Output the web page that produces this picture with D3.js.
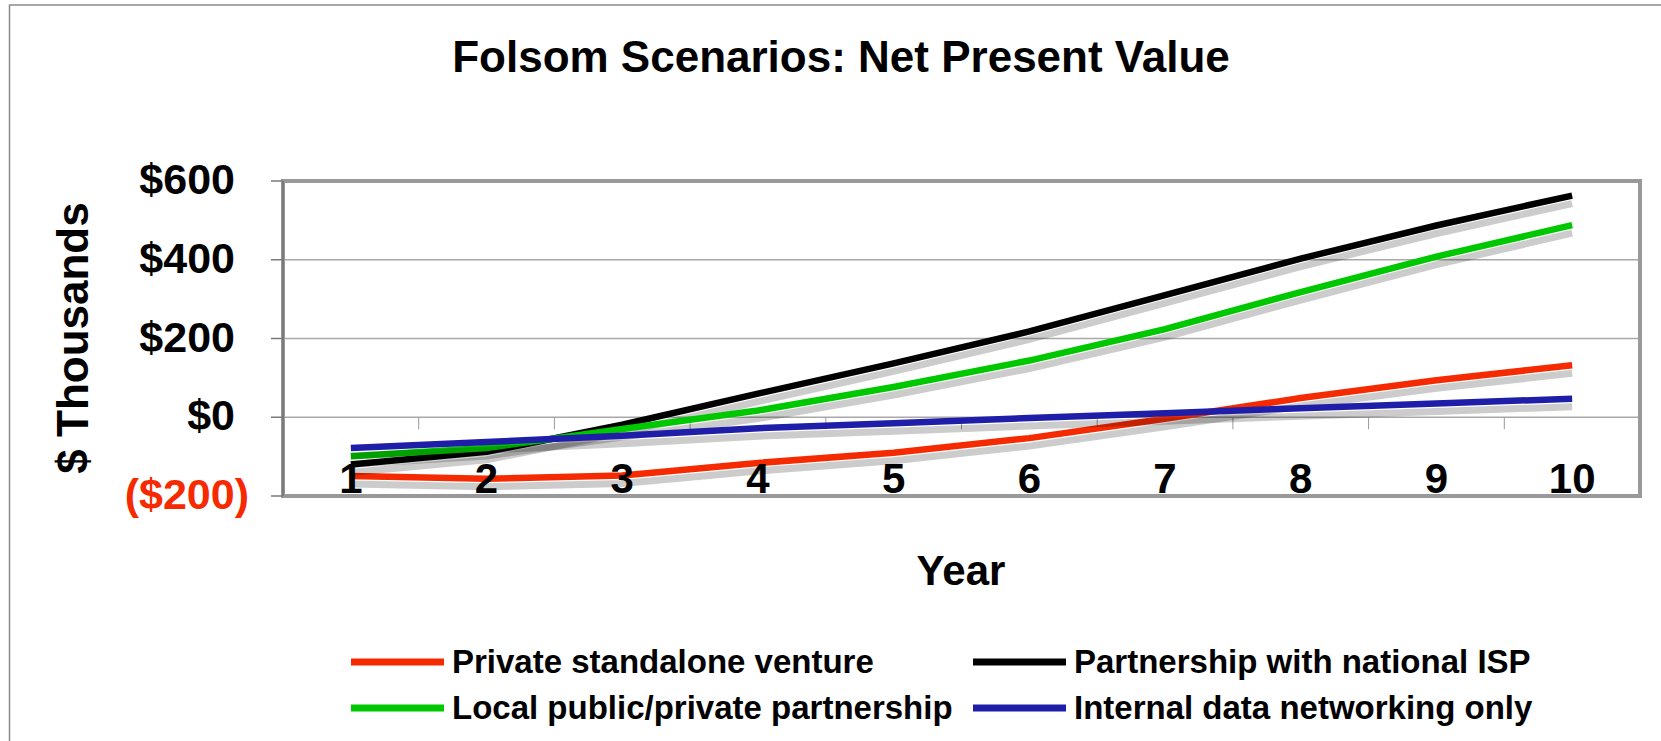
<!DOCTYPE html>
<html>
<head>
<meta charset="utf-8">
<script src="https://cdn.jsdelivr.net/npm/d3@7"></script>
<style>
  html, body { margin: 0; padding: 0; background: #fff; }
  svg { display: block; font-family: "Liberation Sans", Arial, sans-serif; font-weight: bold; }
</style>
</head>
<body>
<svg width="1661" height="741"></svg>
<script>
'use strict';

// data ($ thousands)
var years = ["1", "2", "3", "4", "5", "6", "7", "8", "9", "10"];
var privateVenture = [-149, -156, -148, -116, -90, -53, -4, 49, 94, 132];
var ispPartnership = [-120, -88, -19, 60, 137, 218, 310, 403, 487, 563];
var localPartnership = [-99, -78, -30, 17, 77, 144, 224, 318, 408, 488];
var internalOnly = [-78, -63, -47, -28, -15, -2, 10, 23, 35, 47];
var yTicks = [-200, 0, 200, 400, 600];

var series = [
  {name: "Private standalone venture", values: privateVenture, color: "#f52a00"},
  {name: "Partnership with national ISP", values: ispPartnership, color: "#000000"},
  {name: "Local public/private partnership", values: localPartnership, color: "#00c800"},
  {name: "Internal data networking only", values: internalOnly, color: "#1e1ea8"}
];

var svg = d3.select("svg");

// outer frame
svg.append("rect")
  .attr("x", 9.5).attr("y", 5)
  .attr("width", 1700).attr("height", 800)
  .attr("fill", "none")
  .attr("stroke", "#8a8a8a")
  .attr("stroke-width", 1.5);

var plotL = 283, plotR = 1640, plotT = 181, plotB = 496;

var x = d3.scaleBand().domain(years).range([plotL, plotR]).paddingInner(0).paddingOuter(0);
var y = d3.scaleLinear().domain([-200, 600]).range([plotB, plotT]);
var cx = function(d) { return x(d) + x.bandwidth() / 2; };

// title
svg.append("text")
  .attr("x", 841).attr("y", 72)
  .attr("text-anchor", "middle")
  .attr("font-size", 44)
  .text("Folsom Scenarios: Net Present Value");

// gridlines
svg.selectAll(".grid")
  .data([0, 200, 400])
  .enter().append("line")
  .attr("x1", plotL).attr("x2", plotR)
  .attr("y1", function(d) { return y(d); })
  .attr("y2", function(d) { return y(d); })
  .attr("stroke", "#a8a8a8")
  .attr("stroke-width", 1.5);

// x ticks hanging below the $0 line, at category boundaries
var bounds = years.slice(1).map(function(d) { return x(d); }).concat([plotR]);
svg.selectAll(".xtick")
  .data(bounds)
  .enter().append("line")
  .attr("x1", function(d) { return d; }).attr("x2", function(d) { return d; })
  .attr("y1", y(0)).attr("y2", y(0) + 12)
  .attr("stroke", "#999")
  .attr("stroke-width", 1);

// plot border
svg.append("rect")
  .attr("x", plotL).attr("y", plotT)
  .attr("width", plotR - plotL).attr("height", plotB - plotT)
  .attr("fill", "none")
  .attr("stroke", "#999")
  .attr("stroke-width", 4);

// y axis line + ticks
svg.append("line")
  .attr("x1", plotL).attr("x2", plotL)
  .attr("y1", plotT).attr("y2", plotB)
  .attr("stroke", "#7a7a7a")
  .attr("stroke-width", 2);
svg.selectAll(".ytick")
  .data(yTicks)
  .enter().append("line")
  .attr("x1", plotL - 12).attr("x2", plotL)
  .attr("y1", function(d) { return y(d); })
  .attr("y2", function(d) { return y(d); })
  .attr("stroke", "#7a7a7a")
  .attr("stroke-width", 1.5);

// y tick labels
svg.selectAll(".ylabel")
  .data(yTicks)
  .enter().append("text")
  .attr("x", function(d) { return d < 0 ? 249 : 235; })
  .attr("y", function(d) { return y(d) + 13; })
  .attr("text-anchor", "end")
  .attr("font-size", 43)
  .attr("fill", function(d) { return d < 0 ? "#f52a00" : "#000"; })
  .text(function(d) { return d < 0 ? "($" + Math.abs(d) + ")" : "$" + d; });

// y title
svg.append("text")
  .attr("transform", "translate(88,338) rotate(-90)")
  .attr("text-anchor", "middle")
  .attr("font-size", 44)
  .text("$ Thousands");

var line = d3.line()
  .x(function(d, i) { return cx(years[i]); })
  .y(function(d) { return y(d); });

// each series: shadow then line
series.forEach(function(s) {
  svg.append("path")
    .attr("d", line(s.values))
    .attr("transform", "translate(0,8)")
    .attr("fill", "none")
    .attr("stroke", "rgba(0,0,0,0.2)")
    .attr("stroke-width", 7);
  svg.append("path")
    .attr("d", line(s.values))
    .attr("fill", "none")
    .attr("stroke", s.color)
    .attr("stroke-width", 6.5);
});

// x tick labels
svg.selectAll(".xlabel")
  .data(years)
  .enter().append("text")
  .attr("x", cx)
  .attr("y", 493)
  .attr("text-anchor", "middle")
  .attr("font-size", 42)
  .text(function(d) { return d; });

// x title
svg.append("text")
  .attr("x", 961).attr("y", 585)
  .attr("text-anchor", "middle")
  .attr("font-size", 42)
  .text("Year");

// legend
var legendPos = [[351, 662], [973, 662], [351, 708], [973, 708]];
var legend = svg.selectAll(".legend")
  .data(series)
  .enter().append("g")
  .attr("transform", function(d, i) {
    return "translate(" + legendPos[i][0] + "," + legendPos[i][1] + ")";
  });
legend.append("line")
  .attr("x1", 0).attr("x2", 93)
  .attr("y1", 0).attr("y2", 0)
  .attr("stroke", function(d) { return d.color; })
  .attr("stroke-width", 7);
legend.append("text")
  .attr("x", 101)
  .attr("y", 11)
  .attr("font-size", 33)
  .text(function(d) { return d.name; });
</script>
</body>
</html>
